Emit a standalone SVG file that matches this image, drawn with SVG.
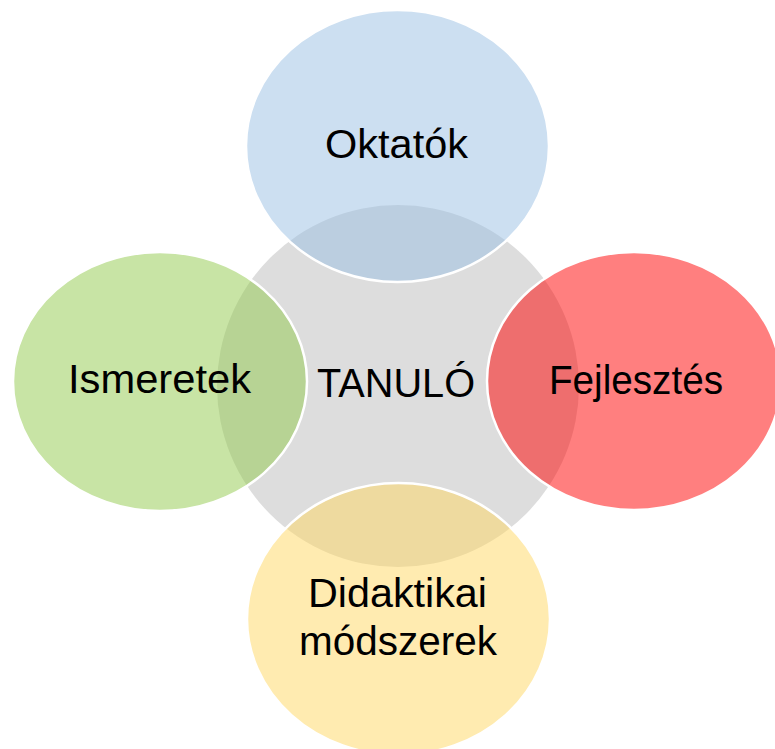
<svg xmlns="http://www.w3.org/2000/svg" width="775" height="749" viewBox="0 0 775 749">
<style>
.n{stroke:#ffffff;stroke-width:2.5}
.t{font-family:"Liberation Sans",Arial,sans-serif;font-size:40px;fill:#000;text-anchor:middle}
</style>
<rect width="775" height="749" fill="#ffffff"/>
<g id="center">
<circle cx="398" cy="386" r="181" fill="#dddddd"/>
<text class="t" x="396" y="397" textLength="158" lengthAdjust="spacingAndGlyphs">TANULÓ</text>
</g>
<g id="connectors"></g>
<g id="oktatok">
<ellipse class="n" cx="397.5" cy="146" rx="151.5" ry="136" fill="#99bfe3" fill-opacity="0.5"/>
<text class="t" x="396.5" y="158" textLength="143" lengthAdjust="spacingAndGlyphs">Oktatók</text>
</g>
<g id="ismeretek">
<ellipse class="n" cx="160" cy="381.5" rx="147" ry="129.5" fill="#91c94b" fill-opacity="0.5"/>
<text class="t" x="159.5" y="393" textLength="183" lengthAdjust="spacingAndGlyphs">Ismeretek</text>
</g>
<g id="fejlesztes">
<ellipse class="n" cx="634" cy="381" rx="147" ry="129" fill="#ff0000" fill-opacity="0.5"/>
<text class="t" x="636" y="394" textLength="174" lengthAdjust="spacingAndGlyphs">Fejlesztés</text>
</g>
<g id="didaktikai">
<ellipse class="n" cx="398.5" cy="619" rx="151.5" ry="136" fill="#ffd761" fill-opacity="0.5"/>
<text class="t" x="397.5" y="607" textLength="179" lengthAdjust="spacingAndGlyphs">Didaktikai</text>
<text class="t" x="398" y="655" textLength="198" lengthAdjust="spacingAndGlyphs">módszerek</text>
</g>
</svg>
